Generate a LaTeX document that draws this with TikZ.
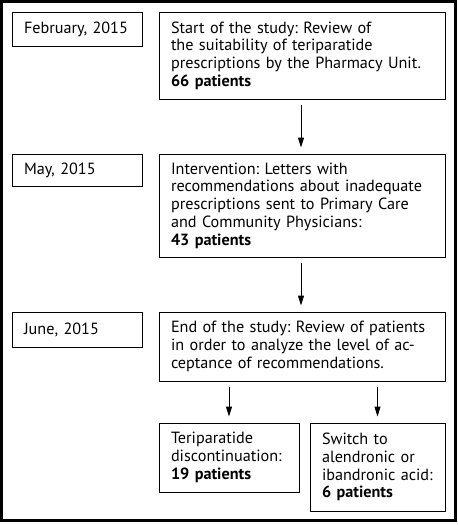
\documentclass[tikz,border=0pt]{standalone}
\usepackage{fontspec}
\setmainfont{PT Sans}
\usetikzlibrary{arrows.meta}
\begin{document}
\frenchspacing
\begin{tikzpicture}[x=1pt,y=-1pt,
  box/.style={draw, line width=0.9pt, rectangle, inner xsep=12pt, inner ysep=0pt, align=left,
    font=\fontsize{16.2}{17.7}\selectfont\frenchspacing},
  arr/.style={line width=0.9pt, -{Triangle[width=6pt,length=10pt]}, shorten <=6pt, shorten >=6pt}]
\useasboundingbox (0,0) rectangle (458,525);
\draw[line width=3pt] (1.3,1.3) rectangle (455,520);
\node[box, minimum width=130pt, minimum height=34pt, text width=106pt] (feb) at (77,29) {February, 2015};
\node[box, minimum width=286pt, minimum height=87pt, text width=262pt] (start) at (302,55.5)
  {Start of the study: Review of\\the suitability of teriparatide\\prescriptions by the Pharmacy Unit.\\\textbf{66 patients}};
\node[box, minimum width=130pt, minimum height=32pt, text width=106pt] (may) at (77,170) {May, 2015};
\node[box, minimum width=286pt, minimum height=103pt, text width=262pt] (interv) at (302,205.5)
  {Intervention: Letters with\\recommendations about inadequate\\prescriptions sent to Primary Care\\and Community Physicians:\\\textbf{43 patients}};
\node[box, minimum width=130pt, minimum height=35pt, text width=106pt] (june) at (77,329.5) {June, 2015};
\node[box, minimum width=286pt, minimum height=69pt, text width=262pt] (end) at (302,346.5)
  {End of the study: Review of patients\\in order to analyze the level of ac-\\ceptance of recommendations.};
\node[box, minimum width=140pt, minimum height=69pt, text width=116pt] (teri) at (229,457.5)
  {Teriparatide\\discontinuation:\\\textbf{19 patients}};
\node[box, minimum width=135pt, minimum height=88pt, text width=111pt] (switch) at (377.5,467)
  {Switch to\\alendronic or\\ibandronic acid:\\\textbf{6 patients}};
\draw[arr] (start.south -| 301,0) -- (interv.north -| 301,0);
\draw[arr] (interv.south -| 301,0) -- (end.north -| 301,0);
\draw[arr] (end.south -| teri.north) -- (teri.north);
\draw[arr] (end.south -| switch.north) -- (switch.north);
\end{tikzpicture}
\end{document}
